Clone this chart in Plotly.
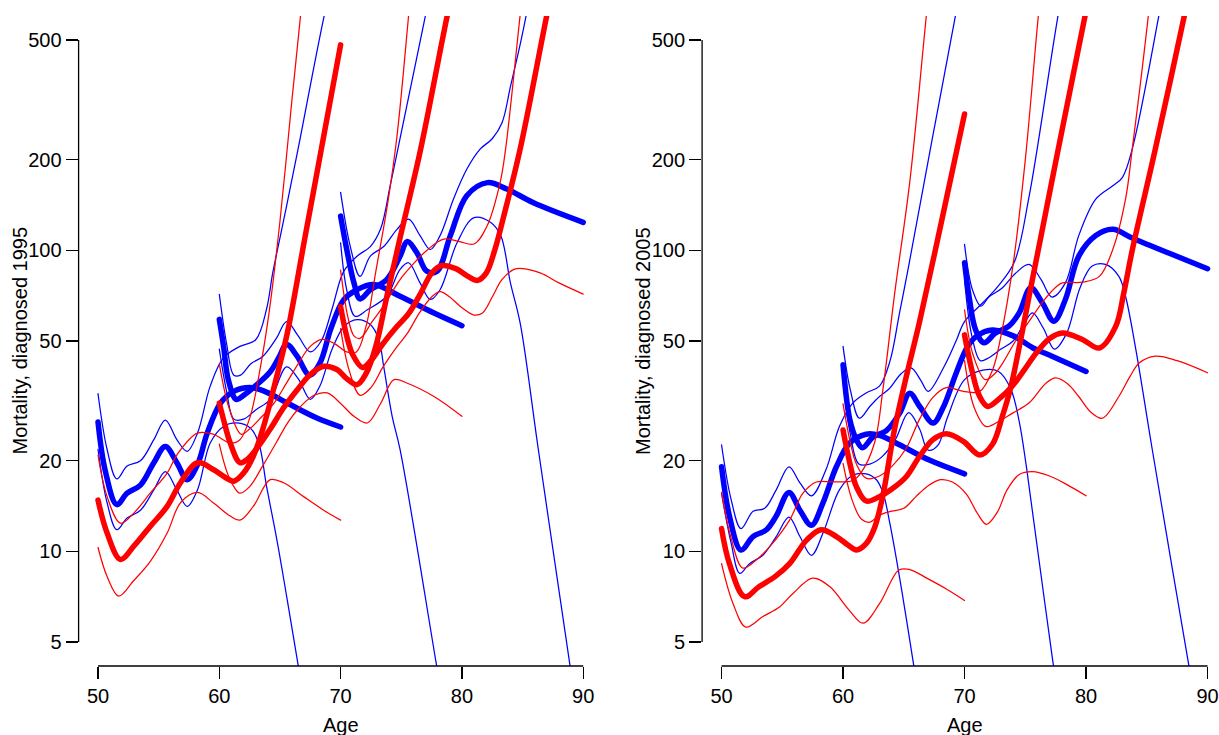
import math
import plotly.graph_objects as go

AGE_TICKS = [50, 60, 70, 80, 90]
RATE_TICKS = [5, 10, 20, 50, 100, 200, 500]
RATE_LABELS = ["5", "10", "20", "50", "100", "200", "500"]
Y_TITLES = ["Mortality, diagnosed 1995", "Mortality, diagnosed 2005"]
X_TITLE = "Age"

# ---------------- 1995 panel: (age, rate) ----------------
p95_b50 = [(50,26.9),(50.6,18.5),(51.55,14.3),(52.4,15.6),(53.5,16.6),(54.6,19.7),(55.55,22.3),(56.5,19.7),(57.35,17.3),(58.2,19.4),(59.0,24.7),(60.1,31.1),(61.2,34.0),(62.5,35.0),(63.6,34.2),(65.8,30.8),(68.0,27.8),(70,25.9)]
p95_b50_hi = [(50,33.4),(50.75,21.8),(51.55,17.4),(52.4,19.2),(53.5,20.0),(54.6,23.5),(55.55,27.3),(56.5,23.5),(57.35,21.5),(58.2,24.7),(59.25,35.4),(60.35,44),(61.7,48),(63.0,50.5),(63.9,64),(64.4,84),(65.0,110),(65.6,144),(66.5,218),(68.6,590),(70,1050)]
p95_b50_lo = [(50,21.8),(50.75,14.5),(51.55,11.8),(52.4,12.9),(53.5,13.7),(54.6,16.0),(55.55,18.4),(56.5,16.0),(57.35,14.1),(58.2,16.0),(59.25,22.9),(60.35,26.0),(61.45,26.7),(62.55,25.7),(63.25,22.9),(63.9,16.4),(64.75,10.9),(65.6,6.9),(70,0.6)]
p95_r50 = [(50,14.8),(50.75,11.5),(51.85,9.4),(52.95,10.4),(54.3,12.1),(55.7,14.1),(56.8,16.9),(58.2,19.7),(59.5,18.7),(60.5,17.6),(61.2,17.1),(62.0,18.2),(62.8,20.7),(63.65,26.0),(64.6,36.3),(65.6,53),(67.0,107),(68.5,227),(70,482)]
p95_r50_hi = [(50,20.9),(50.75,15.2),(51.85,12.4),(52.95,13.4),(54.3,15.6),(55.7,18.2),(56.6,21.2),(58.2,24.7),(59.5,24.5),(60.9,22.9),(61.7,23.5),(62.55,28.1),(63.4,41.2),(64.1,62),(65.0,125),(66.0,320),(66.7,605),(70,18000)]
p95_r50_lo = [(50,10.3),(50.75,8.25),(51.7,7.1),(52.95,8.0),(54.3,9.25),(55.7,11.5),(56.8,14.5),(58.2,15.7),(59.5,14.5),(60.9,13.1),(61.7,12.7),(62.8,14.1),(64.2,17.3),(65.3,16.9),(66.95,15.2),(68.6,13.7),(70,12.7)]

p95_b60 = [(60,59),(60.35,48),(60.75,37),(61.4,32),(62.1,33.2),(63.1,35.8),(64.2,39.5),(64.9,44),(65.55,48.7),(66.4,44.6),(67.45,38.5),(68.3,42.3),(69.2,55),(70.25,68.5),(71.35,74),(72.7,77),(74.9,70.4),(77.7,61.9),(80,56.2)]
p95_b60_hi = [(60,71.5),(60.6,49),(61.2,38.5),(61.75,38.5),(62.6,42),(63.6,44.5),(64.7,51),(65.55,58),(66.5,52),(67.5,46),(68.4,50),(69.3,64),(70.25,85),(71.4,96),(72.45,103),(73.3,118),(74.1,165),(74.8,225),(77.0,605),(80,2400)]
p95_b60_lo = [(60,47),(60.6,34),(61.2,27.5),(62.0,27.5),(63.0,29.5),(64.2,32),(65.55,41),(66.5,37.5),(67.5,32),(68.3,35.5),(69.3,47),(70.3,56),(71.35,58.9),(72.45,56.7),(73.15,50.6),(73.55,41.2),(74.25,28.1),(74.9,21.8),(77.9,4.2),(80,1.3)]
p95_r60 = [(60,31.1),(60.35,27.4),(60.9,22.9),(61.7,19.7),(62.3,20.2),(63.1,22.0),(64.2,25.5),(65.3,30),(66.4,34.3),(67.5,38.7),(68.6,41.2),(69.7,40.2),(70.5,37.5),(71.35,35.8),(72.1,39),(72.9,48),(73.8,70),(74.9,110),(76.6,217),(78.8,605),(80,1000)]
p95_r60_hi = [(60,42),(60.8,30),(61.8,24.5),(62.5,25.5),(63.5,28),(64.5,31),(65.5,36),(66.5,42),(67.5,48),(68.5,50.6),(69.5,49),(70.5,46),(71.3,46),(72.1,56),(72.9,85),(73.9,145),(74.65,240),(75.6,600),(76.5,1500),(80,30000)]
p95_r60_lo = [(60,22.7),(60.6,18.5),(61.2,16.4),(61.7,15.6),(62.5,16.4),(63.6,19.3),(64.7,23),(65.7,27),(66.7,30.3),(67.8,33),(68.9,33.6),(70,31),(71.1,28.1),(72.2,26.7),(73.3,31),(74.4,37.2),(75.5,36.2),(77.7,32.7),(80,28.1)]

p95_b70 = [(70,130),(70.5,101),(71.1,78),(71.6,69),(72.45,74),(73.8,80),(74.9,95.7),(75.5,107),(76.3,98),(77.1,85.3),(77.95,85.3),(79.05,112),(80.4,152),(82.1,168),(83.7,160),(85.9,144),(90,124)]
p95_b70_hi = [(70,156),(70.8,103),(71.6,82),(72.45,95.7),(73.55,103),(74.65,117.5),(75.6,127),(76.55,112),(77.4,100.7),(78.2,112),(79.3,148),(80.4,186),(81.5,217),(82.5,235),(83.3,265),(84.0,350),(85.3,605),(90,9000)]
p95_b70_lo = [(70,106),(70.5,74),(71.2,60.4),(72.2,63.5),(73.8,70.4),(74.9,86.5),(75.6,91),(76.55,78),(77.4,68.7),(78.2,74),(79.6,106),(81.0,128.5),(82.35,124),(83.2,112),(84.0,78),(84.8,57.4),(86.3,21.8),(88.9,4.2),(90,2.1)]
p95_r70 = [(70,65),(70.5,52),(71.0,45),(71.8,40.8),(72.5,43),(73.5,49),(74.5,55),(75.6,61.6),(76.6,72),(77.5,84),(78.3,89),(79.5,87),(80.5,82),(81.3,79.5),(82.0,84),(82.7,100),(83.45,130),(84.8,217),(87.0,605),(90,2400)]
p95_r70_hi = [(70,86),(70.6,60),(71.1,52),(71.6,51),(72.6,58),(73.5,65),(74.9,80),(75.75,88),(77.1,100),(78.5,109),(79.8,107),(81.0,105),(82.05,120),(83.15,168),(83.6,217),(84.8,605),(86,1700),(90,40000)]
p95_r70_lo = [(70,55),(70.7,40),(71.6,33),(72.5,35),(73.5,41),(74.5,47),(75.5,53),(76.5,62),(77.5,70),(78.2,73),(79.0,70),(79.9,65),(81.0,61),(81.7,62),(82.5,70),(83.3,80),(84.3,86.5),(85.0,87),(86.5,84),(88.0,78),(90,71.6)]

# ---------------- 2005 panel ----------------
p05_b50 = [(50,19.1),(50.65,13.1),(51.6,10.1),(52.6,11.2),(53.7,11.8),(54.5,13.1),(55.55,15.7),(56.45,13.7),(57.4,12.2),(58.35,14.5),(59.45,19.1),(60.55,22.9),(61.9,24.5),(63.0,24.3),(64.65,22.6),(67.1,20.1),(70,18.1)]
p05_b50_hi = [(50,22.6),(50.8,14.8),(51.6,11.9),(52.6,13.6),(53.55,13.9),(54.5,16.0),(55.55,19.1),(56.45,16.9),(57.4,15.3),(58.6,18.7),(59.7,26.0),(60.8,31.1),(61.9,33.6),(63.0,35.4),(63.85,42.7),(64.65,62),(65.35,86.5),(67.3,230),(69.26,605),(70,900)]
p05_b50_lo = [(50,15.6),(50.8,10.6),(51.5,8.45),(52.3,9.1),(53.4,9.7),(54.5,11.2),(55.55,13.0),(56.45,11.2),(57.4,9.7),(58.35,11.5),(59.7,16.0),(60.8,17.9),(61.9,18.1),(62.75,17.3),(63.3,15.6),(63.85,12.4),(64.65,8.2),(65.35,5.5),(70,0.36)]
p05_r50 = [(50,11.9),(50.65,9.1),(51.9,7.07),(53.1,7.64),(54.4,8.24),(55.6,9.1),(57.0,10.9),(58.2,11.8),(59.45,11.2),(60.4,10.5),(61.1,10.1),(61.9,10.6),(62.6,12),(63.3,15.5),(64.2,25),(65.2,38),(66.3,58),(68.2,130),(70,284)]
p05_r50_hi = [(50,15.7),(50.8,11),(51.75,8.8),(52.9,9.4),(54.0,10.4),(55.6,12.7),(56.7,15.6),(57.8,17.0),(59.2,17.0),(60.8,17.2),(61.5,18.3),(62.6,23),(63.3,35),(64.25,72),(65.5,170),(66.86,605),(70,11000)]
p05_r50_lo = [(50,9.1),(50.95,6.7),(52.0,5.6),(53.4,6.07),(54.8,6.55),(55.9,7.26),(57.5,8.15),(58.9,7.64),(60.5,6.38),(61.65,5.77),(63.0,6.7),(64.6,8.67),(65.5,8.7),(67,8.1),(68.5,7.5),(70,6.87)]

p05_b60 = [(60,41.7),(60.55,27.5),(61.1,23.5),(61.6,22.1),(62.47,24),(63.57,25.2),(64.66,28.8),(65.49,33.5),(66.31,30.3),(67.41,26.7),(68.23,30),(69.3,39),(70.2,47.5),(71.0,51.9),(72.3,54.4),(74.0,52),(75.6,47.5),(77.2,44.5),(80,39.6)]
p05_b60_hi = [(60,48),(60.6,34.4),(61.35,27.7),(62.2,30.3),(63.0,32.7),(63.8,34.7),(64.8,39),(65.6,40.7),(66.4,37),(67.0,34),(68.3,41),(69.3,50),(70,58),(71.5,67),(72.8,76.4),(74.1,91.5),(75.3,150),(77.7,605),(80,2000)]
p05_b60_lo = [(60,36.6),(60.6,24.5),(61.3,19.5),(62.2,19.5),(63.2,20.6),(64.3,23.5),(65.4,28.9),(66.3,25.5),(67.0,21.7),(67.8,22.5),(68.6,27.9),(70,37.2),(71.5,40),(72.8,39.6),(73.8,34.7),(74.5,27),(75.1,19),(77.2,4.5),(80,0.75)]
p05_r60 = [(60,25.3),(60.55,19.7),(61.1,16.4),(61.9,14.7),(63.0,15.2),(64.1,16.2),(65.2,17.7),(66.3,20.7),(67.4,23.5),(68.5,24.6),(69.9,23.2),(71.25,20.9),(72.3,22.7),(73.1,28),(73.8,35),(74.6,50),(75.3,70),(76.7,135),(77.64,210),(80,625)]
p05_r60_hi = [(60,30.9),(60.6,23),(61.1,19.5),(61.9,17.5),(63.0,17.8),(64.1,19.3),(65.2,22),(66.3,27.5),(67.4,32.5),(68.5,35),(69.9,34),(71.25,34),(72.3,40),(73.0,52),(74.0,90),(75.0,200),(76.0,560),(77,1500),(80,30000)]
p05_r60_lo = [(60,19.6),(60.7,15),(61.5,12.8),(62.2,12.5),(63.0,13.2),(64.0,13.6),(65.0,13.9),(66.0,15.2),(66.9,16.4),(68.0,17.3),(69.0,17),(70.15,15.5),(71.0,13.5),(71.8,12.3),(72.7,13.5),(73.5,16),(74.5,18),(75.6,18.4),(77.0,17.8),(78.5,16.6),(80,15.3)]

p05_b70 = [(70,91),(70.37,70.4),(70.9,54.6),(71.6,49.3),(72.55,53.2),(73.65,56),(74.5,62),(75.45,75.1),(76.4,67),(77.35,58.2),(78.3,68.7),(79.4,95.7),(80.8,112),(82.2,117.5),(83.8,110),(86.8,98),(90,86.9)]
p05_b70_hi = [(70,104.7),(70.65,74),(71.35,65.3),(72.0,70),(73.1,75),(74.2,84),(75.3,89.8),(76.3,80),(77.2,70),(78.3,78),(79.4,112),(80.8,148),(82.2,164),(83.0,175),(83.8,217),(86.0,605),(90,5000)]
p05_b70_lo = [(70,80),(70.6,52),(71.3,43),(72.0,44),(73.0,47),(74.0,50),(75.0,58),(75.6,62),(76.5,55),(77.4,47),(78.4,53),(79.5,75),(80.5,88.7),(81.6,89.8),(82.7,82),(83.25,70.4),(84.1,46.8),(85.45,21.8),(88.45,4.2),(90,1.85)]
p05_r70 = [(70,52.4),(70.6,40),(71.2,33),(71.9,30.3),(72.8,32),(73.9,35.3),(74.9,40),(75.9,45.6),(77.0,51),(78.05,53.2),(79.7,50.6),(81.1,47.4),(82.45,56),(83.1,72),(83.8,100),(85.7,217),(88.1,605),(90,1400)]
p05_r70_hi = [(70,63.5),(70.7,45),(71.7,37.2),(72.5,39),(73.1,42),(74.2,50),(75.3,58),(76.5,68),(77.6,76),(78.05,78),(79.7,78.4),(81.1,82),(82.2,100.7),(83.25,148),(83.8,217),(85.13,605),(87,3500),(90,60000)]
p05_r70_lo = [(70,43),(70.8,30),(71.75,26),(72.8,27),(73.95,28.8),(75.3,31.1),(76.7,36.2),(77.5,37.7),(78.5,36),(79.4,32.7),(80.4,29),(81.35,27.7),(82.7,32.7),(83.6,38),(84.4,42.3),(85.7,44.5),(87.5,43),(90,39.2)]

PANELS = [
    [("blue", p95_b50_hi, p95_b50_lo, p95_b50), ("blue", p95_b60_hi, p95_b60_lo, p95_b60), ("blue", p95_b70_hi, p95_b70_lo, p95_b70),
     ("red", p95_r50_hi, p95_r50_lo, p95_r50), ("red", p95_r60_hi, p95_r60_lo, p95_r60), ("red", p95_r70_hi, p95_r70_lo, p95_r70)],
    [("blue", p05_b50_hi, p05_b50_lo, p05_b50), ("blue", p05_b60_hi, p05_b60_lo, p05_b60), ("blue", p05_b70_hi, p05_b70_lo, p05_b70),
     ("red", p05_r50_hi, p05_r50_lo, p05_r50), ("red", p05_r60_hi, p05_r60_lo, p05_r60), ("red", p05_r70_hi, p05_r70_lo, p05_r70)],
]

COLORS = {"blue": "#0000FF", "red": "#FF0000"}
THIN, THICK = 1.25, 5.5

W, H = 1219, 735
PX_PER_YEAR = [12.13, 12.15]
X_LEFT_PX = [78.6, 702.1]
PLOT_TOP, PLOT_BOTTOM = 16, 665.7
X_MIN = 48.4
YLO = math.log10(5) - 0.08
YHI = math.log10(500) + 0.08

fig = go.Figure()

for i, panel in enumerate(PANELS):
    sfx = "" if i == 0 else "2"
    for color, hi, lo, est in panel:
        for pts, w in ((hi, THIN), (lo, THIN), (est, THICK)):
            fig.add_trace(go.Scatter(
                x=[a for a, _ in pts], y=[v for _, v in pts],
                mode="lines", xaxis="x" + sfx, yaxis="y" + sfx,
                line=dict(color=COLORS[color], width=w, shape="spline", smoothing=1.0),
                hoverinfo="skip", showlegend=False))

axis_common = dict(ticks="outside", ticklen=12, tickwidth=1.3, tickcolor="black",
                   showgrid=False, zeroline=False, showline=False,
                   tickfont=dict(size=20, color="black"), automargin=False)

layout = dict(width=W, height=H,
              margin=dict(l=0, r=0, t=PLOT_TOP, b=H - PLOT_BOTTOM, pad=0),
              plot_bgcolor="white", paper_bgcolor="white", showlegend=False,
              template="none", hovermode=False,
              font=dict(family="Liberation Sans, Arial, Helvetica, sans-serif", size=20, color="black"))

shapes = []
annotations = []
for i in range(2):
    sfx = "" if i == 0 else "2"
    x0px = X_LEFT_PX[i]
    x1px = min(W, x0px + (91.6 - X_MIN) * PX_PER_YEAR[i])
    x_max = X_MIN + (x1px - x0px) / PX_PER_YEAR[i]
    layout["xaxis" + sfx] = dict(domain=[x0px / W, x1px / W], range=[X_MIN, x_max],
                                 tickmode="array", tickvals=AGE_TICKS,
                                 ticktext=[str(t) for t in AGE_TICKS],
                                 anchor="y" + sfx, **axis_common)
    layout["yaxis" + sfx] = dict(type="log", range=[YLO, YHI], tickmode="array",
                                 tickvals=RATE_TICKS, ticktext=RATE_LABELS,
                                 anchor="x" + sfx, **axis_common)
    # R-style axis lines spanning first to last tick only
    shapes.append(dict(type="line", xref="x" + sfx, x0=AGE_TICKS[0], x1=AGE_TICKS[-1],
                       yref="y" + sfx + " domain", y0=0, y1=0,
                       line=dict(color="black", width=1.3)))
    fy0 = (math.log10(RATE_TICKS[0]) - YLO) / (YHI - YLO)
    fy1 = (math.log10(RATE_TICKS[-1]) - YLO) / (YHI - YLO)
    shapes.append(dict(type="line", xref="x" + sfx + " domain", x0=0, x1=0,
                       yref="y" + sfx + " domain", y0=fy0, y1=fy1,
                       line=dict(color="black", width=1.3)))
    annotations.append(dict(text=X_TITLE, xref="x" + sfx, x=70, yref="paper", y=0,
                            yanchor="top", yshift=-46, showarrow=False,
                            font=dict(size=20, color="black")))
    annotations.append(dict(text=Y_TITLES[i], xref="paper", x=[19.5, 643][i] / W,
                            yref="paper", y=0.5, textangle=-90, xanchor="center",
                            yanchor="middle", showarrow=False,
                            font=dict(size=20, color="black")))

layout["shapes"] = shapes
layout["annotations"] = annotations
fig.update_layout(**layout)

# remove the default page margin so the 1219x735 figure fills the window exactly,
# and give lines R-like round caps/joins
POST_JS = (
    "document.body.style.margin='0';document.body.style.overflow='hidden';"
    "var s=document.createElement('style');"
    "s.textContent='path.js-line{stroke-linecap:round;stroke-linejoin:round;}';"
    "document.head.appendChild(s);"
)

fig.write_html("out.html", post_script=POST_JS,
               config={"displayModeBar": False, "staticPlot": True})
